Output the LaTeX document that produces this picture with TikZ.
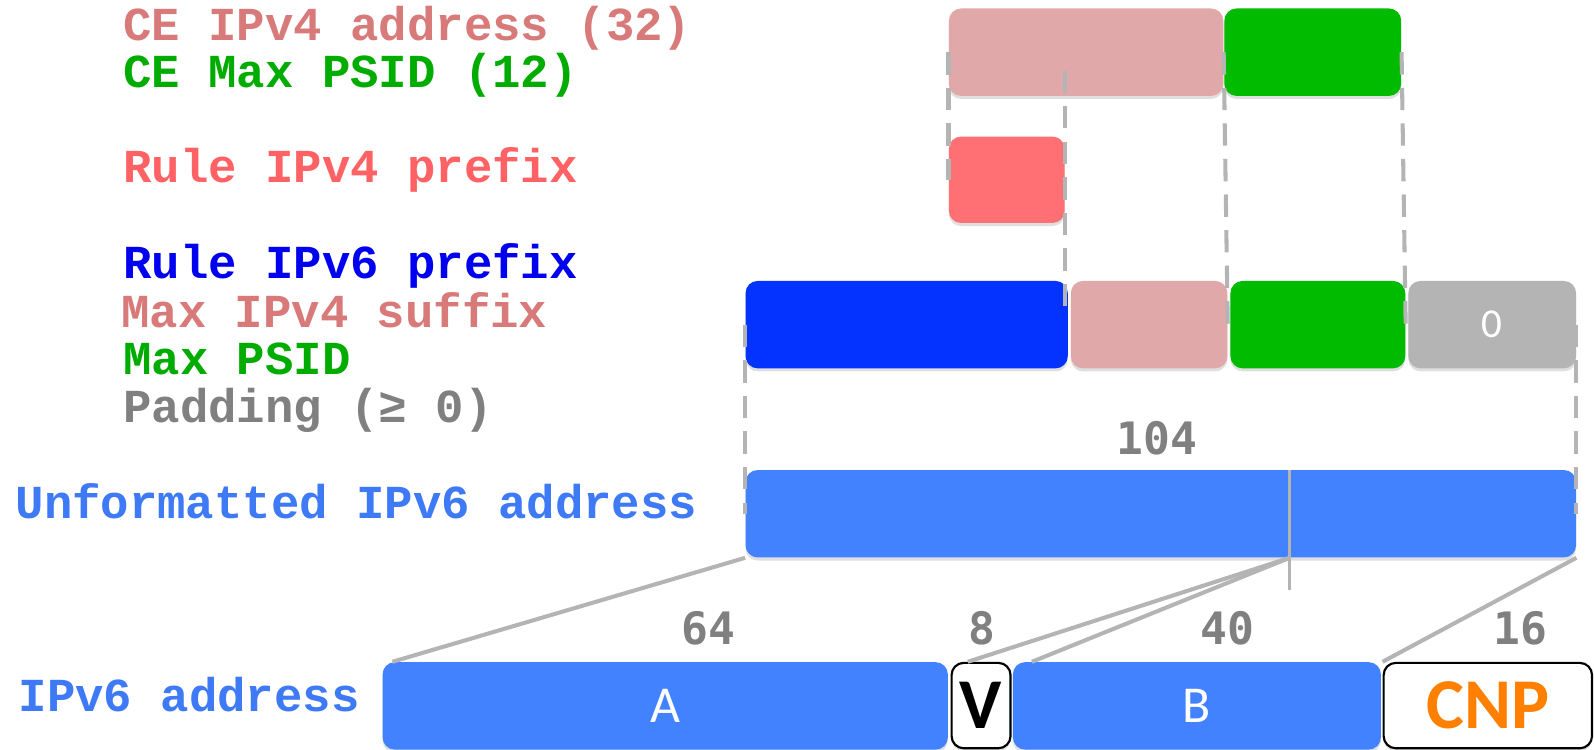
\documentclass[tikz,border=0pt]{standalone}
\usepackage{fontspec}
\setmainfont{Liberation Sans}
\newfontfamily\labelfont{Liberation Mono}
\newfontfamily\numfont{DejaVu Sans Mono}
\newfontfamily\boxfont{Carlito}
\usetikzlibrary{calc,shadows}

\definecolor{cepink}{RGB}{224,168,168}
\definecolor{cepinktxt}{RGB}{216,122,122}
\definecolor{psidgreen}{RGB}{0,187,0}
\definecolor{psidtxt}{RGB}{0,172,0}
\definecolor{rulered}{RGB}{255,112,116}
\definecolor{ruleredtxt}{RGB}{255,98,100}
\definecolor{v6dark}{RGB}{4,51,255}
\definecolor{v6darktxt}{RGB}{0,0,240}
\definecolor{padgray}{RGB}{180,180,180}
\definecolor{txtgray}{RGB}{128,128,128}
\definecolor{v6light}{RGB}{66,130,255}
\definecolor{v6lighttxt}{RGB}{62,122,245}
\definecolor{linegray}{RGB}{180,180,180}
\definecolor{cnporange}{RGB}{255,128,0}

% one unit of the grid below
\newcommand{\pxl}{0.02cm}

\tikzset{
  seg/.style    ={rounded corners=0.24cm, inner sep=0pt, anchor=north west,
                  minimum height=86*\pxl,
                  drop shadow={shadow xshift=0pt, shadow yshift=-0.06cm, opacity=0.25}},
  boxed/.style  ={seg, draw=black, line width=1.2pt, fill=white, minimum height=84*\pxl},
  inbox/.style  ={font=\boxfont\fontsize{29}{32}\selectfont, text=white},
  legend/.style ={anchor=base west, inner sep=0pt,
                  font=\labelfont\bfseries\fontsize{26.5}{32}\selectfont},
  bits/.style   ={inner sep=0pt, text=txtgray,
                  font=\numfont\bfseries\fontsize{25}{30}\selectfont},
  guide/.style  ={linegray, line width=0.08cm, dash pattern=on 0.44cm off 0.26cm},
  link/.style   ={linegray, line width=0.08cm},
}

\begin{document}
\begin{tikzpicture}[x=0.02cm, y=-0.02cm]
  \path[use as bounding box, clip] (0,0) rectangle (1568,737);

  % legend on the left
  \node[legend, text=cepinktxt]   (lce4)  at (121,40)  {CE IPv4 address (32)};
  \node[legend, text=psidtxt]     (lcep)  at (121,86)  {CE Max PSID (12)};
  \node[legend, text=ruleredtxt]  (lr4)   at (121,180) {Rule IPv4 prefix};
  \node[legend, text=v6darktxt]   (lr6)   at (121,274) {Rule IPv6 prefix};
  \node[legend, text=cepinktxt]   (lsfx)  at (119,322) {Max IPv4 suffix};
  \node[legend, text=psidtxt]     (lpsid) at (121,368) {Max PSID};
  \node[legend, text=txtgray]     (lpad)  at (121,416) {Padding (≥ 0)};
  \node[legend, text=v6lighttxt]  (lunf)  at (15,510)  {Unformatted IPv6 address};
  \node[legend, text=v6lighttxt]  (lv6)   at (18,700)  {IPv6 address};

  % CE address + PSID
  \node[seg, fill=cepink,    minimum width=270*\pxl] (ce4)    at (933,8) {};
  \node[seg, fill=psidgreen, minimum width=174*\pxl] (cepsid) at (1204,8) {};

  % rule IPv4 prefix
  \node[seg, fill=rulered, minimum width=114*\pxl, minimum height=85*\pxl] (r4) at (933,134) {};

  % rule IPv6 prefix | suffix | PSID | padding
  \node[seg, fill=v6dark,    minimum width=317*\pxl] (r6)   at (733,276)  {};
  \node[seg, fill=cepink,    minimum width=154*\pxl] (sfx)  at (1053,276) {};
  \node[seg, fill=psidgreen, minimum width=172*\pxl] (psid) at (1210,276) {};
  \node[seg, fill=padgray,   minimum width=165*\pxl, inbox,
        font=\boxfont\fontsize{23}{26}\selectfont] (pad) at (1385,276) {0};

  % unformatted address
  \node[seg, fill=v6light, minimum width=817*\pxl] (unf) at (733,462) {};
  \node[bits] (n104) at (1138,431) {104};

  % final address
  \node[seg, fill=v6light, minimum width=556*\pxl, inbox] (A) at (376,651) {A};
  \node[boxed, minimum width=58*\pxl,
        font=\boxfont\bfseries\fontsize{40}{44}\selectfont] (V) at (935,651) {V};
  \node[seg, fill=v6light, minimum width=362*\pxl, inbox] (B) at (996,651) {B};
  \node[boxed, minimum width=205*\pxl, text=cnporange,
        font=\boxfont\bfseries\fontsize{40}{44}\selectfont] (cnp) at (1360,651) {CNP};

  \node[bits] (n64) at (697,618)  {64};
  \node[bits] (n8)  at (966,618)  {8};
  \node[bits] (n40) at (1207,618) {40};
  \node[bits] (n16) at (1496,618) {16};

  % dashed guides between the rows
  \draw[guide] (ce4.west) -- (r4.west);
  \draw[guide] ($(r4.east |- ce4.center)+(0,18)$) -- ($(r4.east |- sfx.west)+(0,-10)$);
  \draw[guide] (ce4.east) -- (sfx.east);
  \draw[guide] (cepsid.east) -- (psid.east);
  \draw[guide] (r6.west) -- (unf.west);
  \draw[guide] (pad.east) -- (unf.east);

  % split of the unformatted address
  \coordinate (cut)     at ($(unf.north west)!0.655!(unf.north east)$);
  \coordinate (cutfoot) at (cut |- unf.south);
  \coordinate (cutend)  at ($(cut)+(0,118)$);
  \draw[link, line width=0.06cm] (cut) -- (cutend);

  \draw[link] (unf.south west) -- ($(A.north west)+(10,0)$);
  \draw[link] (cutfoot) -- ($(V.north west)+(17,0)$);
  \draw[link] (cutfoot) -- ($(B.north west)+(19,0)$);
  \draw[link] (unf.south east) -- (cnp.north west);
\end{tikzpicture}
\end{document}
